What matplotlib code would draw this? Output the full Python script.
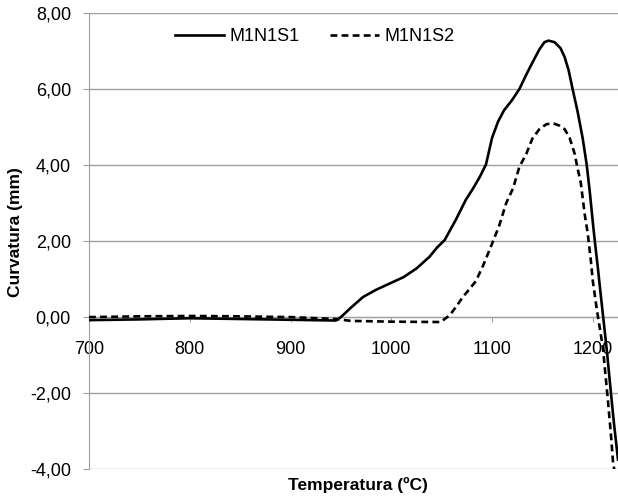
import matplotlib
matplotlib.use("Agg")
import matplotlib.pyplot as plt
from matplotlib.ticker import FuncFormatter

plt.rcParams['font.family'] = ['Liberation Sans', 'DejaVu Sans']

# Data
temp_s1 = [700, 750, 800, 850, 900, 945, 950, 960, 972, 985, 998, 1012, 1025, 1038, 1045,
           1053, 1064, 1074, 1081, 1088, 1094, 1100, 1106, 1112, 1120, 1127, 1135, 1141,
           1147, 1152, 1156, 1162, 1168, 1172, 1176, 1180, 1185, 1190, 1194, 1197, 1200,
           1202, 1205, 1207, 1211, 1214, 1218, 1221, 1225]
curv_s1 = [-0.08, -0.06, -0.03, -0.05, -0.07, -0.09, 0.0, 0.25, 0.53, 0.72, 0.88, 1.05, 1.28,
           1.59, 1.82, 2.03, 2.56, 3.09, 3.38, 3.70, 4.02, 4.72, 5.15, 5.45, 5.72, 6.0, 6.44,
           6.75, 7.05, 7.24, 7.28, 7.24, 7.08, 6.85, 6.5, 6.0, 5.4, 4.7, 4.0, 3.3, 2.5, 2.0,
           1.3, 0.8, -0.17, -0.9, -2.0, -2.8, -3.75]

temp_s2 = [700, 750, 800, 850, 900, 945, 960, 1000, 1049, 1058, 1064, 1071, 1078, 1084, 1091,
           1098, 1107, 1114, 1121, 1127, 1134, 1140, 1147, 1154, 1161, 1167, 1172, 1177,
           1182, 1185, 1188, 1192, 1195, 1198, 1200, 1204, 1207, 1210, 1215, 1218, 1220,
           1221.5]
curv_s2 = [0.0, 0.02, 0.03, 0.02, 0.0, -0.05, -0.1, -0.12, -0.13, 0.05, 0.26, 0.53, 0.75,
           0.95, 1.35, 1.8, 2.4, 3.0, 3.4, 3.95, 4.3, 4.7, 4.95, 5.08, 5.1, 5.04, 4.95, 4.72,
           4.3, 3.9, 3.55, 2.7, 2.2, 1.5, 0.95, 0.2, -0.3, -0.8, -2.2, -3.1, -3.8, -4.05]

series_names = ["M1N1S1", "M1N1S2"]
x_ticks = [700, 800, 900, 1000, 1100, 1200]
y_ticks = [-4, -2, 0, 2, 4, 6, 8]

fig = plt.figure(figsize=(6.18, 4.98), dpi=100)
ax = fig.add_axes([89 / 618, 1 - 469 / 498, 1 - 89 / 618, (469 - 13.3) / 498])

grid_c = '#A0A0A0'
ax.plot(temp_s1, curv_s1, color='black', lw=1.9, label=series_names[0],
        solid_joinstyle='round', zorder=3)
ax.plot(temp_s2, curv_s2, color='black', lw=1.9, linestyle=(0, (2.6, 1.6)),
        label=series_names[1], zorder=3)

ax.set_xlim(700, 1225)
ax.set_ylim(-4, 8)
ax.set_xticks(x_ticks)
ax.set_yticks(y_ticks)
ax.yaxis.set_major_formatter(FuncFormatter(lambda v, p: f"{v:.2f}".replace('.', ',')))

ax.grid(axis='y', color=grid_c, lw=1.0)
ax.set_axisbelow(True)
for s in ['top', 'right']:
    ax.spines[s].set_visible(False)
ax.spines['left'].set_color(grid_c)
ax.spines['bottom'].set_color(grid_c)
ax.spines['bottom'].set_position(('data', 0))
ax.tick_params(axis='y', length=4, color=grid_c, labelsize=13, pad=9)
ax.tick_params(axis='x', length=3.5, color=grid_c, labelsize=13, pad=14)

ax.legend(loc='center left', bbox_to_anchor=(175 / 618, 1 - 36.7 / 498),
          bbox_transform=fig.transFigure, ncol=2, frameon=False, fontsize=13,
          handlelength=2.7, handletextpad=0.3, columnspacing=1.7,
          borderpad=0, borderaxespad=0)

fig.text(16 / 618, 1 - 232 / 498, "Curvatura (mm)", rotation=90, fontsize=12.5,
         fontweight='bold', ha='center', va='center')
fig.text(358 / 618, 1 - 485 / 498, "Temperatura (ºC)", fontsize=12.5,
         fontweight='bold', ha='center', va='center')

fig.savefig("out.png", dpi=100)
